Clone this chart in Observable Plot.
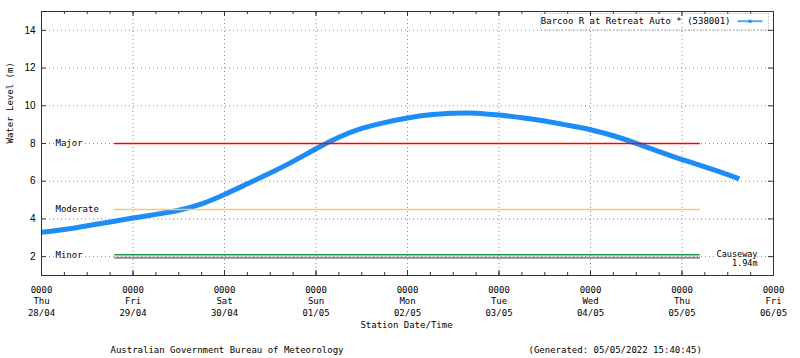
<!DOCTYPE html>
<html>
<head>
<meta charset="utf-8">
<script src="https://cdn.jsdelivr.net/npm/d3@7"></script>
<script src="https://cdn.jsdelivr.net/npm/@observablehq/plot@0.6"></script>
<style>
  html, body { margin: 0; padding: 0; background: #fff; }
  #chart svg { display: block; }
</style>
</head>
<body>
<div id="chart"></div>
<script>
// ---------------- data ----------------
const seriesName = "Barcoo R at Retreat Auto * (538001)";
const seriesStart = "2022-04-28T00:00:00Z";
// hours after series start
const levelHours = [0, 6, 12, 18, 24, 30, 36, 42, 48, 54, 60, 66, 72, 78, 84, 90, 96, 102, 108, 114, 120, 126, 132, 138, 144, 150, 156, 162, 168, 174, 180, 183];
// water level (m)
const levelValues = [3.29, 3.44, 3.64, 3.84, 4.05, 4.24, 4.46, 4.80, 5.30, 5.86, 6.43, 7.05, 7.72, 8.33, 8.80, 9.11, 9.35, 9.52, 9.60, 9.61, 9.51, 9.37, 9.19, 8.97, 8.73, 8.41, 8.01, 7.57, 7.15, 6.76, 6.35, 6.12];

const dayTicks = ["2022-04-28", "2022-04-29", "2022-04-30", "2022-05-01", "2022-05-02", "2022-05-03", "2022-05-04", "2022-05-05", "2022-05-06"];
const dayTimes = ["0000", "0000", "0000", "0000", "0000", "0000", "0000", "0000", "0000"];
const dayNames = ["Thu", "Fri", "Sat", "Sun", "Mon", "Tue", "Wed", "Thu", "Fri"];
const dayDates = ["28/04", "29/04", "30/04", "01/05", "02/05", "03/05", "04/05", "05/05", "06/05"];
const yTicks = [2, 4, 6, 8, 10, 12, 14];

const thresholdNames = ["Major", "Moderate", "Minor", "Causeway"];
const thresholdValues = [8, 4.5, 2.1, 1.94];
const thresholdFrom = "2022-04-28T19:12:00Z";
const thresholdTo = "2022-05-05T04:48:00Z";
const causewayLabel = "1.94m";

const yLabel = "Water Level (m)";
const xLabel = "Station Date/Time";
const footerLeft = "Australian Government Bureau of Meteorology";
const footerRight = "(Generated: 05/05/2022 15:40:45)";

// ---------------- build ----------------
const t0 = new Date(seriesStart);
const levels = levelHours.map((h, i) => ({date: new Date(+t0 + h * 3600e3), value: levelValues[i]}));
const days = dayTicks.map(d => new Date(d + "T00:00:00Z"));
const sixHours = d3.utcHour.every(6).range(days[0], d3.utcHour.offset(days[days.length - 1], 1));
const thresholds = thresholdNames.map((n, i) => ({name: n, value: thresholdValues[i], from: new Date(thresholdFrom), to: new Date(thresholdTo)}));

// styles
const thresholdColor = {Major: "#ff0000", Moderate: "#f5c67c", Minor: "#1f9a4c", Causeway: "#8a8a8a"};
const thresholdWidth = {Major: 1.5, Moderate: 1.6, Minor: 1.6, Causeway: 2.2};
const mono = "'DejaVu Sans Mono', 'Liberation Mono', monospace";
const sans = "'Liberation Sans', Arial, sans-serif";
const W = 800, H = 358, mL = 41, mR = 27, mT = 11, mB = 83;
const fw = W - mL - mR, fh = H - mT - mB;
const blue = "#1e8cf5";
const gridStyle = {stroke: "#8c8c8c", strokeDasharray: "1,3", strokeWidth: 1};

const dayIndex = d => Math.round((d - days[0]) / 864e5);

const chart = Plot.plot({
  width: W, height: H,
  marginLeft: mL, marginRight: mR, marginTop: mT, marginBottom: mB,
  style: {background: "#fff", color: "#000", overflow: "visible"},
  x: {type: "utc", domain: [days[0], days[days.length - 1]]},
  y: {domain: [1, 15]},
  marks: [
    // grid
    Plot.ruleY(yTicks, {y: d => d, ...gridStyle}),
    Plot.ruleX(days.slice(1, -1), {x: d => d, ...gridStyle}),
    // water level series
    Plot.line(levels, {x: "date", y: "value", stroke: blue, strokeWidth: 5, curve: "natural", strokeLinecap: "butt"}),
    // threshold lines
    ...thresholds.map(t => Plot.ruleY([t], {y: "value", x1: "from", x2: "to", stroke: thresholdColor[t.name], strokeWidth: thresholdWidth[t.name]})),
    // threshold labels (left)
    Plot.text(thresholds.filter(d => d.name !== "Causeway"), {
      y: "value", text: "name", frameAnchor: "left", dx: 14, textAnchor: "start",
      fontFamily: mono, fontSize: 9, fill: "#000", stroke: "#fff", strokeWidth: 3
    }),
    // causeway label (right)
    Plot.text(thresholds.filter(d => d.name === "Causeway"), {
      y: "value", text: "name", frameAnchor: "right", dx: -16, dy: -3.5, textAnchor: "end",
      fontFamily: mono, fontSize: 8.5, fill: "#000", stroke: "#fff", strokeWidth: 3
    }),
    Plot.text(thresholds.filter(d => d.name === "Causeway"), {
      y: "value", text: () => causewayLabel, frameAnchor: "right", dx: -16, dy: 5.5, textAnchor: "end",
      fontFamily: mono, fontSize: 8.5, fill: "#000"
    }),
    // frame
    Plot.frame({stroke: "#333", strokeWidth: 1}),
    // inward ticks
    Plot.ruleX(sixHours, {x: d => d, insetTop: fh - 3, stroke: "#333"}),
    Plot.ruleX(days, {x: d => d, insetTop: fh - 5, stroke: "#333"}),
    Plot.ruleX(sixHours, {x: d => d, insetBottom: fh - 3, stroke: "#333"}),
    Plot.ruleX(days, {x: d => d, insetBottom: fh - 5, stroke: "#333"}),
    Plot.ruleY(yTicks, {y: d => d, insetRight: fw - 5, stroke: "#333"}),
    Plot.ruleY(yTicks, {y: d => d, insetLeft: fw - 5, stroke: "#333"}),
    // axes labels
    Plot.axisY({ticks: yTicks, tickSize: 0, tickPadding: 6, fontSize: 10, fontFamily: sans, label: null}),
    Plot.axisX({
      ticks: days, tickSize: 0, tickPadding: 9, label: null,
      tickFormat: d => { const i = dayIndex(d); return `${dayTimes[i]}\n${dayNames[i]}\n${dayDates[i]}`; },
      fontSize: 9, fontFamily: mono, lineHeight: 1.28
    }),
    Plot.text([yLabel], {text: d => d, frameAnchor: "left", dx: -31, rotate: -90, fontFamily: mono, fontSize: 9, fill: "#000"}),
    Plot.text([xLabel], {text: d => d, frameAnchor: "bottom", dx: -1, dy: 52, fontFamily: mono, fontSize: 9, fill: "#000"}),
    Plot.text([footerLeft], {text: d => d, frameAnchor: "bottom-left", dx: 69, dy: 75, textAnchor: "start", lineAnchor: "middle", fontFamily: mono, fontSize: 9, fill: "#000"}),
    Plot.text([footerRight], {text: d => d, frameAnchor: "bottom-left", dx: 487, dy: 75, textAnchor: "start", lineAnchor: "middle", fontFamily: mono, fontSize: 9, fill: "#000"}),
    // legend
    Plot.frame({insetLeft: 499, insetRight: 5, insetTop: 2, insetBottom: fh - 18.5, stroke: "#999", strokeDasharray: "1,2", fill: "none"}),
    Plot.text([seriesName], {text: d => d, frameAnchor: "top-right", dx: -43, dy: 9.7, textAnchor: "end", lineAnchor: "middle", fontFamily: mono, fontSize: 9, fill: "#000"}),
    Plot.frame({insetLeft: 696, insetRight: 11, insetTop: 8.7, insetBottom: fh - 10.7, stroke: "none", fill: "#5ea6ff"}),
    Plot.dot([seriesName], {frameAnchor: "top-right", dx: -23.5, dy: 9.7, r: 1.8, fill: blue, stroke: "none"})
  ]
});
document.getElementById("chart").appendChild(chart);
</script>
</body>
</html>
